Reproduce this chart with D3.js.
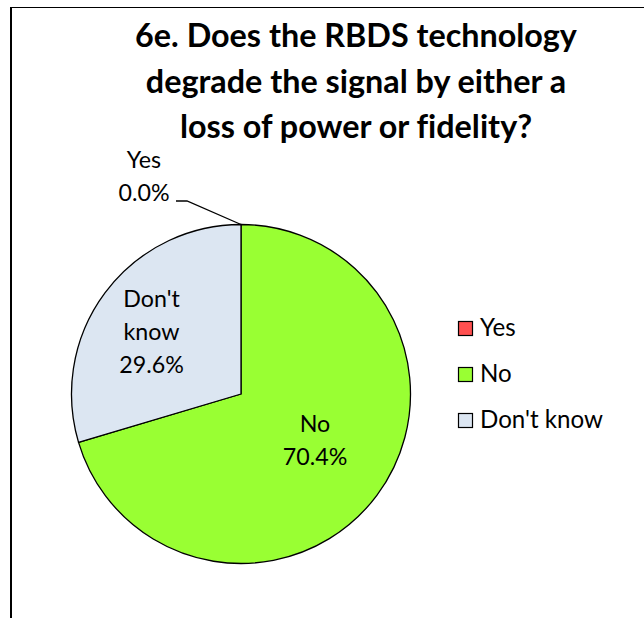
<!DOCTYPE html>
<html>
<head>
<meta charset="utf-8">
<script src="https://cdn.jsdelivr.net/npm/d3@7"></script>
<style>
  html, body { margin: 0; padding: 0; background: #fff; }
  svg { display: block; }
  text { font-family: Lato, "Open Sans", sans-serif; fill: #000; font-variant-ligatures: none; font-feature-settings: "liga" 0; }
</style>
</head>
<body>
<svg id="chart" width="644" height="618"></svg>
<script>
// ---- data ----
const categories = ["Yes", "No", "Don't know"];
const percents = [0.0, 70.4, 29.6];
const colors = ["#FF5050", "#99FF33", "#DCE6F2"];
const titleLines = ["6e. Does the RBDS technology", "degrade the signal by either a", "loss of power or fidelity?"];

const svg = d3.select("#chart");
const W = 644, H = 618;

// helper: font size that makes a text reach a target width
function fitSize(str, weight, target) {
  const t = svg.append("text").attr("font-size", 100).attr("font-weight", weight).text(str);
  const w = t.node().getComputedTextLength();
  t.remove();
  return 100 * target / w;
}

// frame (left and top edges)
svg.append("line").attr("x1", 11).attr("y1", 7).attr("x2", 11).attr("y2", H)
  .attr("stroke", "#000").attr("stroke-width", 2);
svg.append("line").attr("x1", 10).attr("y1", 7.5).attr("x2", W).attr("y2", 7.5)
  .attr("stroke", "#000").attr("stroke-width", 1);

// title
const titleSize = fitSize(titleLines[0], 700, 442);
svg.append("g").selectAll("text").data(titleLines).join("text")
  .attr("x", 356)
  .attr("y", (d, i) => 47 + i * 45.5)
  .attr("text-anchor", "middle")
  .attr("font-weight", 700)
  .attr("font-size", titleSize)
  .text(d => d);

// pie
const cx = 241, cy = 394, r = 169.5;
const data = categories.map((c, i) => ({ cat: c, value: percents[i], color: colors[i] }));
const pie = d3.pie().sort(null).value(d => d.value).startAngle(0).endAngle(2 * Math.PI);
const arcs = pie(data);
const arc = d3.arc().innerRadius(0).outerRadius(r);

const g = svg.append("g").attr("transform", `translate(${cx},${cy})`);
g.selectAll("path").data(arcs.filter(a => a.value > 0)).join("path")
  .attr("d", arc)
  .attr("fill", d => d.data.color)
  .attr("stroke", "#000")
  .attr("stroke-width", 1.3)
  .attr("stroke-linejoin", "round");

// data labels
const labelSize = fitSize("70.4%", 400, 64.5);
const lineH = 33;
function fmt(v) { return v.toFixed(1) + "%"; }

// No
const noA = arcs[1];
svg.append("text").attr("text-anchor", "middle").attr("font-size", labelSize)
  .selectAll("tspan").data(["No", fmt(noA.data.value)]).join("tspan")
  .attr("x", 315).attr("y", (d, i) => 432 + i * lineH).text(d => d);

// Don't know
const dkA = arcs[2];
svg.append("text").attr("text-anchor", "middle").attr("font-size", labelSize)
  .selectAll("tspan").data(["Don't", "know", fmt(dkA.data.value)]).join("tspan")
  .attr("x", 151.5).attr("y", (d, i) => 307 + i * lineH).text(d => d);

// Yes (outside, with leader)
const yA = arcs[0];
const edge = [cx + r * Math.sin(yA.startAngle), cy - r * Math.cos(yA.startAngle)];
svg.append("path")
  .attr("d", d3.line()([[176, 201], [187, 201], edge]))
  .attr("fill", "none").attr("stroke", "#000").attr("stroke-width", 1.3);
svg.append("text").attr("text-anchor", "middle").attr("font-size", labelSize)
  .selectAll("tspan").data(["Yes", fmt(yA.data.value)]).join("tspan")
  .attr("x", 144).attr("y", (d, i) => 168 + i * lineH).text(d => d);

// legend
const legSize = fitSize("Don't know", 400, 123);
const leg = svg.append("g").selectAll("g").data(data).join("g")
  .attr("transform", (d, i) => `translate(458,${321 + i * 46})`);
leg.append("rect").attr("x", 0.5).attr("y", 0.5).attr("width", 14).attr("height", 14)
  .attr("fill", d => d.color).attr("stroke", "#000").attr("stroke-width", 1.2);
leg.append("text").attr("x", 22).attr("y", 15).attr("font-size", legSize).text(d => d.cat);
</script>
</body>
</html>
